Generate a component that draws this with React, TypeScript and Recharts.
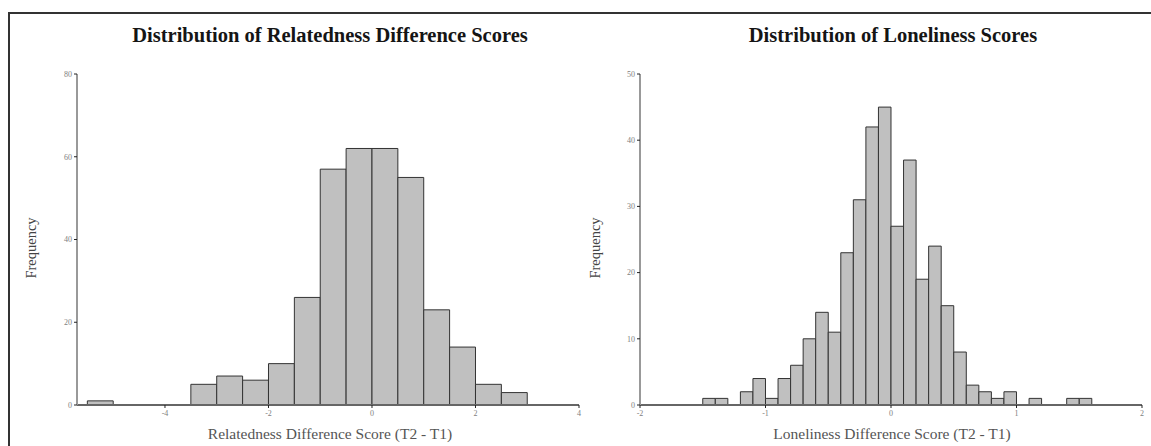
import { BarChart, Bar, XAxis, YAxis } from 'recharts';

// Relatedness difference histogram (bin width 0.5, value = bin midpoint)
const relatednessMids = [-5.25, -3.25, -2.75, -2.25, -1.75, -1.25, -0.75, -0.25, 0.25, 0.75, 1.25, 1.75, 2.25, 2.75];
const relatednessCounts = [1, 5, 7, 6, 10, 26, 57, 62, 62, 55, 23, 14, 5, 3];
const relatednessXTicks = [-4, -2, 0, 2, 4];
const relatednessYTicks = [0, 20, 40, 60, 80];

// Loneliness difference histogram (bin width 0.1)
const lonelinessMids = [
  -1.45, -1.35, -1.25, -1.15, -1.05, -0.95, -0.85, -0.75, -0.65, -0.55, -0.45, -0.35, -0.25, -0.15, -0.05,
  0.05, 0.15, 0.25, 0.35, 0.45, 0.55, 0.65, 0.75, 0.85, 0.95, 1.05, 1.15, 1.25, 1.35, 1.45, 1.55,
];
const lonelinessCounts = [
  1, 1, 0, 2, 4, 1, 4, 6, 10, 14, 11, 23, 31, 42, 45,
  27, 37, 19, 24, 15, 8, 3, 2, 1, 2, 0, 1, 0, 0, 1, 1,
];
const lonelinessXTicks = [-2, -1, 0, 1, 2];
const lonelinessYTicks = [0, 10, 20, 30, 40, 50];

const W = 1151;
const H = 446;
const PLOT_W = 502;
const SERIF = '"Liberation Serif", "Times New Roman", serif';

const relatednessData = relatednessMids.map((mid, i) => ({ mid, count: relatednessCounts[i] }));
const lonelinessData = lonelinessMids.map((mid, i) => ({ mid, count: lonelinessCounts[i] }));

const tickStyle = { fontSize: 8, fill: '#808080', fontFamily: SERIF };

interface HistProps {
  data: { mid: number; count: number }[];
  xDomain: [number, number];
  yDomain: [number, number];
  xTicks: number[];
  yTicks: number[];
  binWidth: number;
  left: number;
}

function Histogram({ data, xDomain, yDomain, xTicks, yTicks, binWidth, left }: HistProps) {
  // tiny bit under the bin width so recharts doesn't shrink the bars
  const barSize = (binWidth / (xDomain[1] - xDomain[0])) * PLOT_W - 0.01;
  return (
    <div style={{ position: 'absolute', left: 0, top: 0 }}>
      <BarChart
        width={W}
        height={H}
        data={data}
        barCategoryGap={0}
        barGap={0}
        margin={{ top: 74, bottom: 11, left: left - 40, right: W - left - PLOT_W }}
      >
        <XAxis
          dataKey="mid"
          type="number"
          domain={xDomain}
          ticks={xTicks}
          interval={0}
          allowDataOverflow
          height={30}
          tick={tickStyle}
          tickSize={3}
          tickMargin={2}
          tickLine={{ stroke: '#222' }}
          axisLine={{ stroke: '#666', strokeWidth: 2 }}
        />
        <YAxis
          type="number"
          domain={yDomain}
          ticks={yTicks}
          interval={0}
          width={40}
          tick={tickStyle}
          tickSize={3}
          tickMargin={2}
          tickLine={{ stroke: '#222' }}
          axisLine={{ stroke: '#999', strokeWidth: 2 }}
        />
        <Bar
          dataKey="count"
          fill="#c0c0c0"
          stroke="#333"
          strokeWidth={1}
          barSize={barSize}
          isAnimationActive={false}
        />
      </BarChart>
    </div>
  );
}

const titleStyle = {
  position: 'absolute' as const,
  top: 24,
  fontFamily: SERIF,
  fontWeight: 'bold' as const,
  fontSize: 20.5,
  color: '#151515',
  whiteSpace: 'nowrap' as const,
  transform: 'translateX(-50%)',
};

const xLabelStyle = {
  position: 'absolute' as const,
  top: 425,
  fontFamily: SERIF,
  fontSize: 15.5,
  color: '#555',
  whiteSpace: 'nowrap' as const,
  transform: 'translateX(-50%)',
};

const yLabelStyle = {
  position: 'absolute' as const,
  top: 248,
  fontFamily: SERIF,
  fontSize: 14.5,
  color: '#444',
  whiteSpace: 'nowrap' as const,
  transform: 'translate(-50%, -50%) rotate(-90deg)',
};

export default function App() {
  return (
    <div style={{ position: 'relative', width: W, height: H, overflow: 'hidden', background: '#fff' }}>
      <style>{'body{margin:0}'}</style>
      <div
        style={{
          position: 'absolute',
          left: 8,
          top: 12,
          width: 1300,
          height: 600,
          border: '2px solid #333',
          boxSizing: 'border-box',
        }}
      />
      <Histogram
        data={relatednessData}
        xDomain={[-5.7, 4]}
        yDomain={[0, 80]}
        xTicks={relatednessXTicks}
        yTicks={relatednessYTicks}
        binWidth={0.5}
        left={77}
      />
      <Histogram
        data={lonelinessData}
        xDomain={[-2, 2]}
        yDomain={[0, 50]}
        xTicks={lonelinessXTicks}
        yTicks={lonelinessYTicks}
        binWidth={0.1}
        left={640}
      />
      <div style={{ ...titleStyle, left: 330 }}>Distribution of Relatedness Difference Scores</div>
      <div style={{ ...titleStyle, left: 893 }}>Distribution of Loneliness Scores</div>
      <div style={{ ...xLabelStyle, left: 330 }}>Relatedness Difference Score (T2 - T1)</div>
      <div style={{ ...xLabelStyle, left: 892 }}>Loneliness Difference Score (T2 - T1)</div>
      <div style={{ ...yLabelStyle, left: 31 }}>Frequency</div>
      <div style={{ ...yLabelStyle, left: 595 }}>Frequency</div>
    </div>
  );
}
